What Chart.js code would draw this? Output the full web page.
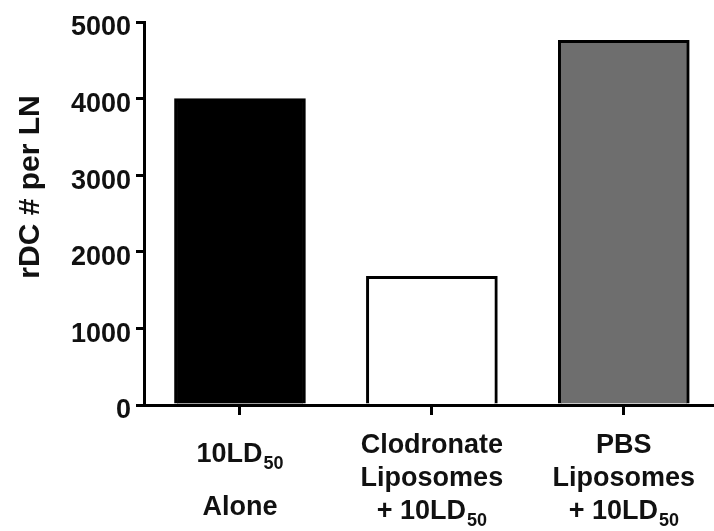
<!DOCTYPE html>
<html>
<head>
<meta charset="utf-8">
<title>rDC per LN</title>
<script src="https://cdn.jsdelivr.net/npm/chart.js@4.4.1/dist/chart.umd.min.js"></script>
<style>
  html, body { margin: 0; padding: 0; background: #ffffff; }
</style>
</head>
<body>
<canvas id="rdcChart" width="714" height="531"></canvas>
<script>
// Treatment groups, one bar each
const groups = ["10LD50 Alone", "Clodronate Liposomes + 10LD50", "PBS Liposomes + 10LD50"];
// Axis label lines under each bar ("_" marks the start of a subscript)
const groupLines = [
  ["10LD_50", "Alone"],
  ["Clodronate", "Liposomes", "+ 10LD_50"],
  ["PBS", "Liposomes", "+ 10LD_50"],
];
// rDC count per lymph node
const rdcPerLN = [4000, 1680, 4760];
const barFills = ["#000000", "#ffffff", "#6e6e6e"];
const yTickValues = [0, 1000, 2000, 3000, 4000, 5000];
const yTitle = "rDC # per LN";

const FONT = "'Liberation Sans', Arial, Helvetica, sans-serif";
const INK = "#111111";

// draws one label line, splitting off a smaller, lowered subscript after "_"
function drawLine(ctx, text, cx, y) {
  const parts = text.split("_");
  const main = parts[0];
  const sub = parts[1] || "";
  ctx.font = "bold 27px " + FONT;
  const wMain = ctx.measureText(main).width;
  ctx.font = "bold 18px " + FONT;
  const wSub = sub ? ctx.measureText(sub).width + 1 : 0;
  let x = cx - (wMain + wSub) / 2;
  ctx.textAlign = "left";
  ctx.textBaseline = "alphabetic";
  ctx.font = "bold 27px " + FONT;
  ctx.fillText(main, x, y);
  if (sub) {
    ctx.font = "bold 18px " + FONT;
    ctx.fillText(sub, x + wMain + 1, y + 7);
  }
}

// Category labels and the rotated y title are drawn here
const labelPlugin = {
  id: "groupLabels",
  afterDraw(chart) {
    const ctx = chart.ctx;
    const xScale = chart.scales.x;
    ctx.save();
    ctx.fillStyle = INK;
    groupLines.forEach((lines, i) => {
      const cx = xScale.getPixelForValue(i);
      const gap = lines.length === 2 ? 53 : 33; // two-line label is spread out
      const mid = lines.length === 2 ? 478 : 476;
      const first = mid - gap * (lines.length - 1) / 2;
      lines.forEach((line, j) => {
        drawLine(ctx, line, cx, first + gap * j + 10);
      });
    });

    // y axis title
    ctx.translate(39, 187);
    ctx.rotate(-Math.PI / 2);
    ctx.font = "bold 30px " + FONT;
    ctx.textAlign = "center";
    ctx.textBaseline = "alphabetic";
    ctx.fillText(yTitle, 0, 0);
    ctx.restore();
  },
};

new Chart(document.getElementById("rdcChart"), {
  type: "bar",
  data: {
    datasets: [
      {
        label: "rDC # per LN",
        // bars placed at index 0, 1, 2 on a numeric x axis
        data: rdcPerLN.map((v, i) => ({ x: i, y: v })),
        backgroundColor: barFills,
        borderColor: "#000000",
        borderWidth: 3,
        borderSkipped: "start",
        barThickness: 131,
      },
    ],
  },
  options: {
    responsive: false,
    animation: false,
    layout: { padding: { top: 22, right: 0, bottom: 0, left: 0 } },
    plugins: {
      legend: { display: false },
      tooltip: { enabled: false },
    },
    scales: {
      x: {
        type: "linear",
        min: -0.5,
        max: 2.47, // axis runs a little short of the last half-slot
        offset: false,
        afterBuildTicks(scale) {
          scale.ticks = groups.map((g, i) => ({ value: i }));
        },
        grid: {
          offset: false, // tick marks under the bar centres
          drawOnChartArea: false,
          tickLength: 10,
          lineWidth: 3,
          tickWidth: 3,
          tickColor: "#000000",
        },
        border: { display: true, color: "#000000", width: 3 },
        ticks: { display: false },
        afterFit(scale) { scale.height = 126; },
      },
      y: {
        min: 0,
        max: 5000,
        afterBuildTicks(scale) {
          scale.ticks = yTickValues.map((v) => ({ value: v }));
        },
        grid: {
          drawOnChartArea: false,
          tickLength: 8,
          lineWidth: 3,
          tickWidth: 3,
          tickColor: "#000000",
        },
        border: { display: true, color: "#000000", width: 3 },
        ticks: {
          color: INK,
          padding: 5,
          labelOffset: 6,
          font: { family: FONT, size: 27, weight: "bold" },
          callback: (value) => String(value), // plain numbers, no thousands separator
        },
        afterFit(scale) { scale.width = 144; },
      },
    },
  },
  plugins: [labelPlugin],
});
</script>
</body>
</html>
